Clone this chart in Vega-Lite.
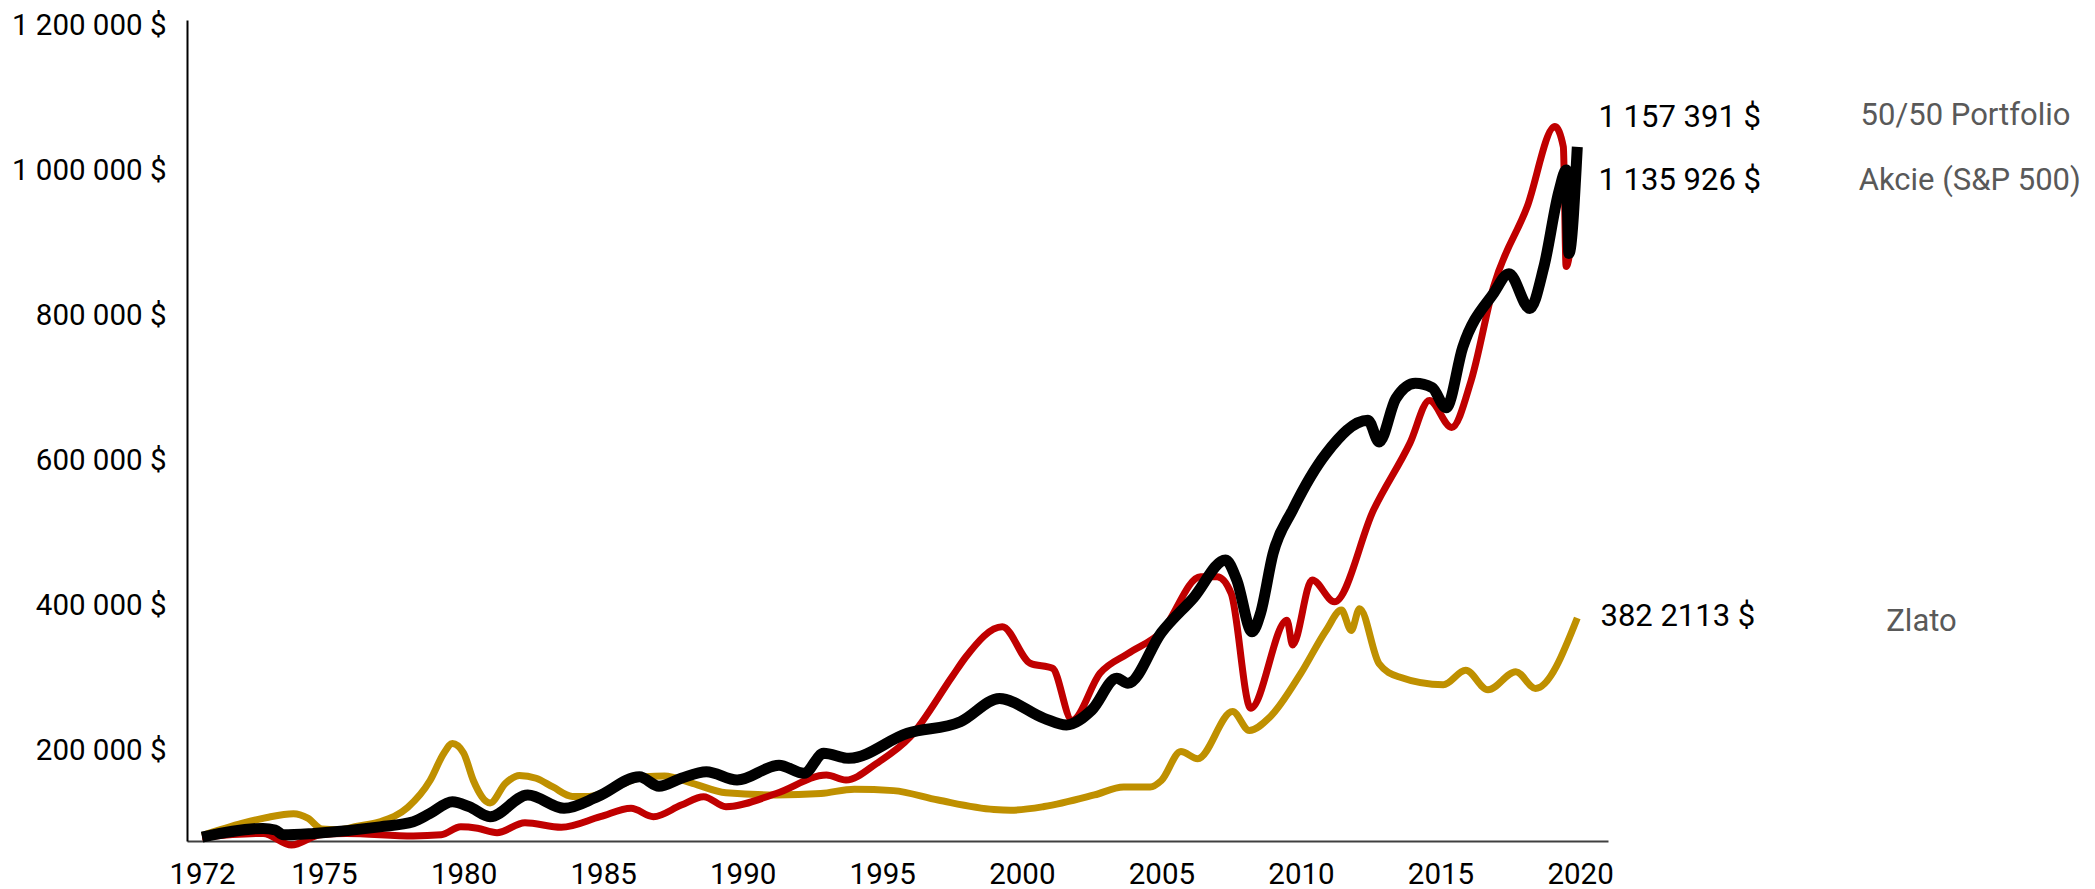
{
  "$schema": "https://vega.github.io/schema/vega-lite/v6.json",
  "autosize": "none",
  "width": 1421,
  "height": 821,
  "padding": {"left": 187, "top": 20, "right": 487, "bottom": 48},
  "background": "white",
  "config": {
    "view": {"stroke": null},
    "font": "Roboto",
    "axis": {"labelFont": "Roboto", "labelColor": "#000000", "grid": false, "ticks": false, "title": null, "labelFlush": false, "labelOverlap": false, "labelBound": false}
  },
  "datasets": {
    "zlato": [
      {"year": 1972.0, "value": 82000}, {"year": 1973.0, "value": 99000}, {"year": 1973.6, "value": 107000},
      {"year": 1974.25, "value": 112000}, {"year": 1974.6, "value": 106000}, {"year": 1974.95, "value": 91000},
      {"year": 1975.5, "value": 90000}, {"year": 1976.2, "value": 95000}, {"year": 1977.0, "value": 101000},
      {"year": 1978.0, "value": 121000}, {"year": 1978.8, "value": 158000}, {"year": 1979.3, "value": 196000},
      {"year": 1979.6, "value": 209000}, {"year": 1980.0, "value": 196000}, {"year": 1980.35, "value": 158000},
      {"year": 1980.95, "value": 127000}, {"year": 1981.5, "value": 154000}, {"year": 1982.0, "value": 165000},
      {"year": 1982.6, "value": 161000}, {"year": 1983.2, "value": 149000}, {"year": 1983.9, "value": 136000},
      {"year": 1984.5, "value": 136000}, {"year": 1985.5, "value": 150000}, {"year": 1986.5, "value": 163000},
      {"year": 1987.2, "value": 164000}, {"year": 1988.2, "value": 154000}, {"year": 1989.4, "value": 141000},
      {"year": 1991.2, "value": 138000}, {"year": 1992.8, "value": 140000}, {"year": 1994.0, "value": 146000},
      {"year": 1995.4, "value": 144000}, {"year": 1997.0, "value": 131000}, {"year": 1999.0, "value": 118000},
      {"year": 1999.6, "value": 117000}, {"year": 2000.8, "value": 122000}, {"year": 2002.6, "value": 138000},
      {"year": 2003.65, "value": 149000}, {"year": 2004.6, "value": 149000}, {"year": 2005.0, "value": 158000},
      {"year": 2005.7, "value": 198000}, {"year": 2006.3, "value": 188000}, {"year": 2007.55, "value": 253000},
      {"year": 2008.15, "value": 227000}, {"year": 2008.9, "value": 246000}, {"year": 2010.0, "value": 306000},
      {"year": 2010.9, "value": 365000}, {"year": 2011.45, "value": 393000}, {"year": 2011.8, "value": 365000},
      {"year": 2012.1, "value": 395000}, {"year": 2012.8, "value": 319000}, {"year": 2013.5, "value": 301000},
      {"year": 2015.1, "value": 290000}, {"year": 2015.9, "value": 310000}, {"year": 2016.7, "value": 283000},
      {"year": 2017.7, "value": 308000}, {"year": 2018.4, "value": 285000}, {"year": 2019.9, "value": 382211}
    ],
    "akcie": [
      {"year": 1972.0, "value": 80000}, {"year": 1973.5, "value": 85000}, {"year": 1974.2, "value": 69000},
      {"year": 1974.9, "value": 83000}, {"year": 1975.8, "value": 85000}, {"year": 1978.2, "value": 81500},
      {"year": 1979.2, "value": 83000}, {"year": 1979.9, "value": 94000}, {"year": 1980.5, "value": 92000},
      {"year": 1981.2, "value": 86000}, {"year": 1982.2, "value": 99700}, {"year": 1983.5, "value": 93400},
      {"year": 1984.9, "value": 108000}, {"year": 1986.0, "value": 119600}, {"year": 1986.8, "value": 108000},
      {"year": 1987.8, "value": 124000}, {"year": 1988.6, "value": 135600}, {"year": 1989.4, "value": 121800},
      {"year": 1991.2, "value": 140000}, {"year": 1993.0, "value": 165500}, {"year": 1993.7, "value": 158600},
      {"year": 1994.8, "value": 181600}, {"year": 1996.0, "value": 218000}, {"year": 1997.5, "value": 301000},
      {"year": 1998.0, "value": 328700}, {"year": 1999.3, "value": 370000}, {"year": 2000.3, "value": 319600},
      {"year": 2001.1, "value": 312700}, {"year": 2001.8, "value": 241000}, {"year": 2002.8, "value": 305800},
      {"year": 2003.8, "value": 333000}, {"year": 2005.0, "value": 363000}, {"year": 2006.4, "value": 439000},
      {"year": 2007.0, "value": 439000}, {"year": 2007.5, "value": 416000}, {"year": 2008.2, "value": 257500},
      {"year": 2009.5, "value": 379000}, {"year": 2009.7, "value": 345000}, {"year": 2010.4, "value": 434500},
      {"year": 2011.2, "value": 404500}, {"year": 2012.6, "value": 531000}, {"year": 2013.9, "value": 623000},
      {"year": 2014.6, "value": 682000}, {"year": 2015.4, "value": 645000}, {"year": 2016.1, "value": 710000},
      {"year": 2016.9, "value": 839000}, {"year": 2018.1, "value": 949000}, {"year": 2019.1, "value": 1060000},
      {"year": 2019.4, "value": 1032000}, {"year": 2019.5, "value": 867000}, {"year": 2019.9, "value": 1010000}
    ],
    "portfolio": [
      {"year": 1972.0, "value": 80000}, {"year": 1973.5, "value": 91800}, {"year": 1973.8, "value": 89700},
      {"year": 1974.0, "value": 83000}, {"year": 1974.75, "value": 85000}, {"year": 1977.0, "value": 94000},
      {"year": 1978.2, "value": 101000}, {"year": 1978.8, "value": 112500}, {"year": 1979.6, "value": 128700},
      {"year": 1980.2, "value": 121800}, {"year": 1980.95, "value": 108000}, {"year": 1982.3, "value": 138000},
      {"year": 1983.6, "value": 119600}, {"year": 1984.8, "value": 135600}, {"year": 1986.3, "value": 163000},
      {"year": 1987.0, "value": 150000}, {"year": 1987.8, "value": 161000}, {"year": 1988.7, "value": 170000},
      {"year": 1989.8, "value": 158600}, {"year": 1991.3, "value": 179000}, {"year": 1992.2, "value": 167800},
      {"year": 1992.9, "value": 195400}, {"year": 1993.8, "value": 188500}, {"year": 1995.9, "value": 223000},
      {"year": 1997.8, "value": 239000}, {"year": 1999.2, "value": 271000}, {"year": 2000.8, "value": 243700},
      {"year": 2001.6, "value": 234500}, {"year": 2002.5, "value": 255000}, {"year": 2003.4, "value": 299000},
      {"year": 2003.8, "value": 292000}, {"year": 2005.0, "value": 362000}, {"year": 2006.15, "value": 410000},
      {"year": 2007.3, "value": 462000}, {"year": 2007.7, "value": 434500}, {"year": 2008.25, "value": 363000},
      {"year": 2008.55, "value": 388500}, {"year": 2009.0, "value": 471000}, {"year": 2009.7, "value": 531000},
      {"year": 2010.9, "value": 609000}, {"year": 2012.4, "value": 655000}, {"year": 2012.8, "value": 625000},
      {"year": 2013.4, "value": 685000}, {"year": 2014.1, "value": 706000}, {"year": 2014.7, "value": 700000},
      {"year": 2015.2, "value": 672000}, {"year": 2015.8, "value": 756000}, {"year": 2016.9, "value": 830000},
      {"year": 2017.45, "value": 857000}, {"year": 2018.2, "value": 809000}, {"year": 2018.7, "value": 866000},
      {"year": 2019.25, "value": 972000}, {"year": 2019.5, "value": 1000000}, {"year": 2019.6, "value": 885000},
      {"year": 2019.9, "value": 1032000}
    ]
  },
  "layer": [
    {
      "data": {"name": "zlato"},
      "mark": {"type": "line", "color": "#BF9000", "strokeWidth": 7, "interpolate": "monotone"},
      "encoding": {
        "x": {"field": "year", "type": "quantitative",
          "scale": {"domain": [1971.63, 1975, 2021], "range": [0, 137, 1421], "nice": false, "zero": false},
          "axis": {"values": [1972, 1975, 1980, 1985, 1990, 1995, 2000, 2005, 2010, 2015, 2020], "format": "d",
                   "labelFontSize": 29.5, "labelPadding": 19, "domainColor": "#404040", "domainWidth": 2}},
        "y": {"field": "value", "type": "quantitative",
          "scale": {"domain": [74500, 1207000], "nice": false, "zero": false},
          "axis": {"values": [200000, 400000, 600000, 800000, 1000000, 1200000],
                   "labelExpr": "replace(format(datum.value, ','), regexp(',', 'g'), ' ') + ' $'",
                   "labelFontSize": 29.5, "labelPadding": 21, "domainColor": "#000000", "domainWidth": 2}}
      }
    },
    {
      "data": {"name": "akcie"},
      "mark": {"type": "line", "color": "#C00000", "strokeWidth": 7, "interpolate": "monotone"},
      "encoding": {
        "x": {"field": "year", "type": "quantitative"},
        "y": {"field": "value", "type": "quantitative"}
      }
    },
    {
      "data": {"name": "portfolio"},
      "mark": {"type": "line", "color": "#000000", "strokeWidth": 11, "interpolate": "monotone"},
      "encoding": {
        "x": {"field": "year", "type": "quantitative"},
        "y": {"field": "value", "type": "quantitative"}
      }
    },
    {
      "data": {"values": [{"label": "1 157 391 $"}]},
      "mark": {"type": "text", "align": "left", "baseline": "middle", "fontSize": 31, "font": "Roboto", "color": "#000000"},
      "encoding": {
        "x": {"datum": 2020.66, "type": "quantitative"},
        "y": {"datum": 1072400, "type": "quantitative"},
        "text": {"field": "label"}
      }
    },
    {
      "data": {"values": [{"label": "1 135 926 $"}]},
      "mark": {"type": "text", "align": "left", "baseline": "middle", "fontSize": 31, "font": "Roboto", "color": "#000000"},
      "encoding": {
        "x": {"datum": 2020.66, "type": "quantitative"},
        "y": {"datum": 985240, "type": "quantitative"},
        "text": {"field": "label"}
      }
    },
    {
      "data": {"values": [{"label": "382 2113 $"}]},
      "mark": {"type": "text", "align": "left", "baseline": "middle", "fontSize": 31, "font": "Roboto", "color": "#000000"},
      "encoding": {
        "x": {"datum": 2020.73, "type": "quantitative"},
        "y": {"datum": 383450, "type": "quantitative"},
        "text": {"field": "label"}
      }
    },
    {
      "data": {"values": [{"label": "50/50 Portfolio"}]},
      "mark": {"type": "text", "align": "left", "baseline": "middle", "fontSize": 31, "font": "Roboto", "color": "#595959"},
      "encoding": {
        "x": {"datum": 2030.05, "type": "quantitative"},
        "y": {"datum": 1075200, "type": "quantitative"},
        "text": {"field": "label"}
      }
    },
    {
      "data": {"values": [{"label": "Akcie (S&P 500)"}]},
      "mark": {"type": "text", "align": "left", "baseline": "middle", "fontSize": 31, "font": "Roboto", "color": "#595959"},
      "encoding": {
        "x": {"datum": 2029.98, "type": "quantitative"},
        "y": {"datum": 985240, "type": "quantitative"},
        "text": {"field": "label"}
      }
    },
    {
      "data": {"values": [{"label": "Zlato"}]},
      "mark": {"type": "text", "align": "left", "baseline": "middle", "fontSize": 31, "font": "Roboto", "color": "#595959"},
      "encoding": {
        "x": {"datum": 2030.97, "type": "quantitative"},
        "y": {"datum": 376550, "type": "quantitative"},
        "text": {"field": "label"}
      }
    }
  ]
}
